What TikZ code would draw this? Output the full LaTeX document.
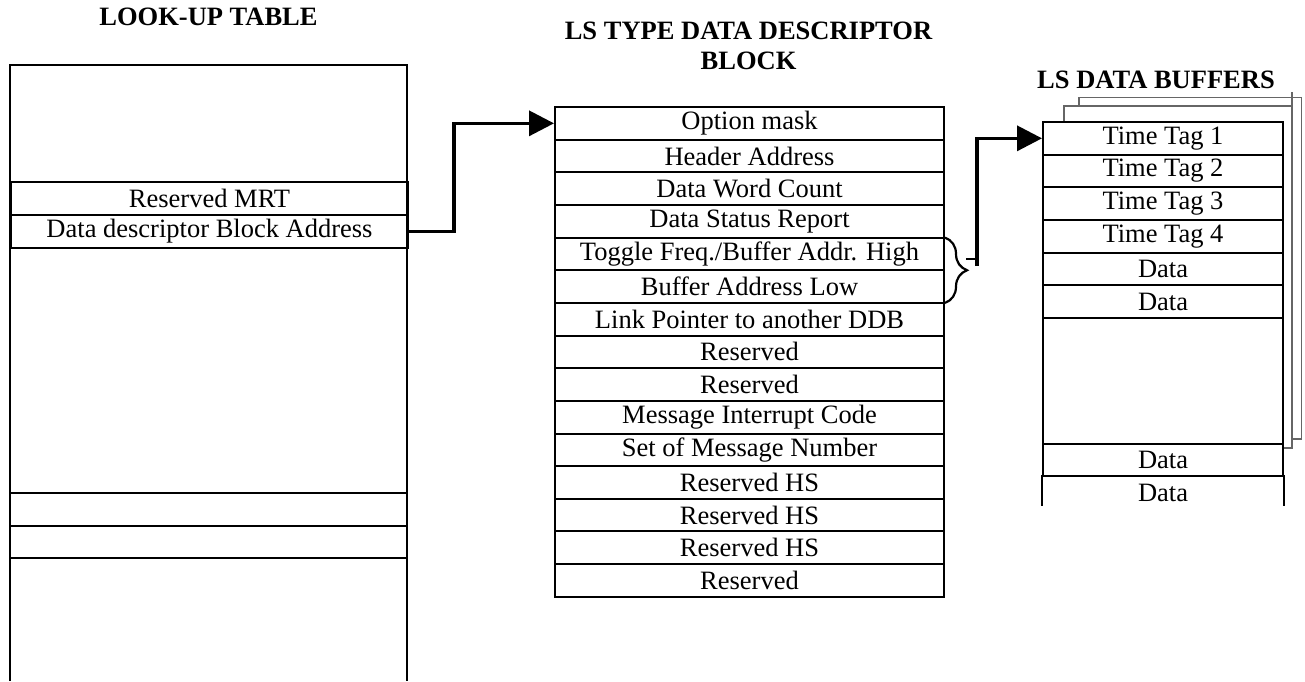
\documentclass[tikz,border=0pt]{standalone}
\usepackage{fontspec}
\setmainfont{Liberation Serif}
\usetikzlibrary{arrows.meta,decorations.pathreplacing}
\begin{document}
\begin{tikzpicture}[x=1pt,y=-1pt,
  tbl/.style={draw=black, line width=2pt},
  rowbox/.style={draw=black, line width=2pt, anchor=north west, inner sep=0pt,
    minimum height=32.65pt, font=\fontsize{26.5}{30}\selectfont},
  lrow/.style={rowbox, minimum width=397pt},
  mrow/.style={rowbox, minimum width=389pt},
  brow/.style={rowbox, minimum width=240pt},
  ttl/.style={inner sep=0pt, align=center, font=\fontsize{26.5}{30}\selectfont\bfseries},
  conn/.style={line width=3.5pt, -{Triangle[length=25pt,width=25pt]}},
  sheet/.style={draw=black!60, line width=1.5pt},
  brc/.style={line width=2.2pt, decorate, decoration={brace, amplitude=22pt}}]
\useasboundingbox (0,0) rectangle (1305,681);

% titles
\node[ttl] (t1) at (208.5,17) {LOOK-UP TABLE};
\node[ttl] (t2) at (748.5,46) {LS TYPE DATA DESCRIPTOR\\BLOCK};
\node[ttl] (t3) at (1156,80) {LS DATA BUFFERS};

% look-up table
\draw[tbl] (10,681) -- (10,65) -- (407,65) -- (407,681);
\node[lrow] (mrt) at (10,181) {Reserved MRT};
\node[lrow] (ddba) at (10,214) {Data descriptor Block Address};
\draw[tbl] (10,493) -- (407,493);
\draw[tbl] (10,525.5) -- (407,525.5);
\draw[tbl] (10,558) -- (407,558);

% data descriptor block
\foreach \t [count=\i from 0] in {Option mask, Header Address, Data Word Count,
  Data Status Report, Toggle Freq./Buffer Addr. High, Buffer Address Low,
  Link Pointer to another DDB, Reserved, Reserved, Message Interrupt Code,
  Set of Message Number, Reserved HS, Reserved HS, Reserved HS, Reserved}
  \node[mrow] (m\i) at (554,{106+32.65*\i}) {\t};

% data buffers: back sheets
\draw[sheet] (1079,106) -- (1079,97.7) -- (1301.5,97.7) -- (1301.5,439) -- (1292,439);
\draw[sheet] (1064,121) -- (1064,106) -- (1292,106);
\draw[sheet] (1292,92) -- (1292,448) -- (1282,448);

% data buffers: front sheet
\foreach \t [count=\i from 0] in {Time Tag 1, Time Tag 2, Time Tag 3, Time Tag 4, Data, Data}
  \node[brow] (b\i) at (1042,{121+32.65*\i}) {\t};
\node[brow, minimum height=125.7pt] (bgap) at (1042,316.9) {};
\node[brow] (b6) at (1042,442.6) {Data};
\node[brow, draw=none] (b7) at (1042,475.3) {Data};
\draw[tbl] (b7.north west) -- ++(0,31);
\draw[tbl] (b7.north east) -- ++(0,31);

% connectors
\draw[conn] (ddba.east) -- ++(45,0) |- (m0.west);
\draw[brc] (m4.north east) ++(0,1) -- ([yshift=1pt]m5.south east);
\coordinate (bt) at (977,266);
\draw[line width=2pt] (966,259) -- (977,259);
\draw[conn] (bt) |- (b0.west);
\end{tikzpicture}
\end{document}
